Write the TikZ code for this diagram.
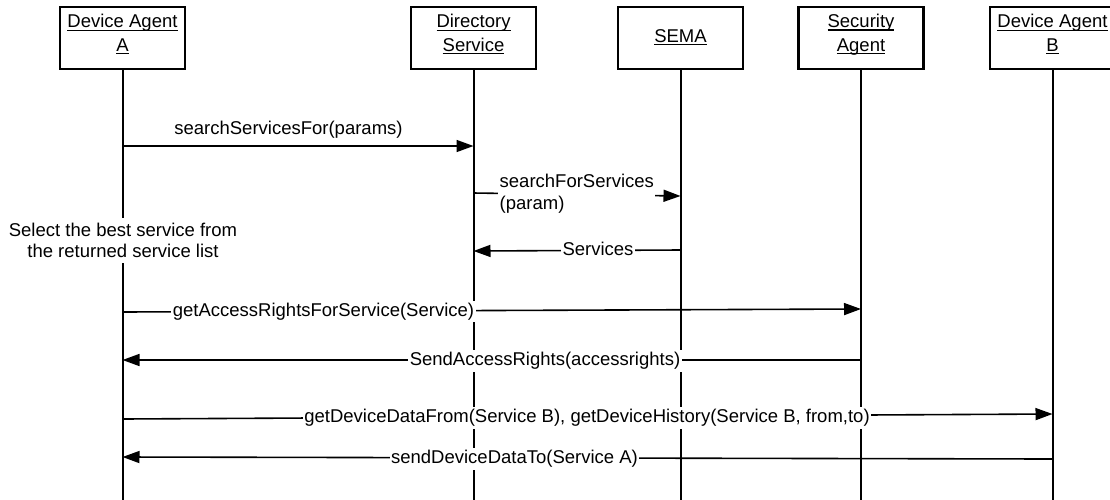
\documentclass[tikz,border=0pt]{standalone}
\usepackage{fontspec}
\setmainfont{Liberation Sans}
\usetikzlibrary{arrows.meta}

% underline at a fixed depth below the baseline
\newcommand{\ulabel}[1]{\setbox0\hbox{#1}\rlap{\rule[-3pt]{\wd0}{1.1pt}}\box0}

\tikzset{
  actor/.style={draw, line width=2.4pt, minimum width=125pt, minimum height=62pt,
    inner sep=0pt},
  actortext/.style={inner sep=0pt, align=center, font=\fontsize{18.5}{23.5}\selectfont},
  life/.style={line width=2pt},
  msg/.style={line width=1.6pt, -{Triangle[length=17pt,width=12pt]}},
  lbl/.style={fill=white, inner xsep=1.5pt, inner ysep=2pt,
    text height=13.5pt, text depth=3.9pt, font=\fontsize{18.5}{22}\selectfont},
  multi/.style={fill=white, inner xsep=1.5pt, inner ysep=3pt,
    font=\fontsize{18.5}{21.5}\selectfont},
}

\begin{document}
\begin{tikzpicture}[x=1pt,y=-1pt]
\useasboundingbox (0,0) rectangle (1110,499);

% participants
\node[actor] (A)    at (122.5,38) {};
\node[actor] (DS)   at (473.5,38) {};
\node[actor] (SEMA) at (680.5,38) {};
\node[actor] (SA)   at (861,38)   {};
\node[actor] (B)    at (1052.5,38) {};
\node[actortext] (At)    at ([yshift=3.5pt]A.center)    {\ulabel{Device Agent}\\\ulabel{A}};
\node[actortext] (DSt)   at ([yshift=3.5pt]DS.center)   {\ulabel{Directory}\\\ulabel{Service}};
\node[actortext] (SEMAt) at ([yshift=0.5pt]SEMA.center) {\ulabel{SEMA}};
\node[actortext] (SAt)   at ([yshift=3.5pt]SA.center)   {\ulabel{Security}\\\ulabel{Agent}};
\node[actortext] (Bt)    at ([yshift=3.5pt]B.center)    {\ulabel{Device Agent}\\\ulabel{B}};

% lifelines
\coordinate (bottom) at (0,502);
\foreach \p in {A,DS,SEMA,SA,B}
  \draw[life] (\p.south) -- (\p.south |- bottom);

% 1: search request
\draw[msg] (A.south |- 0,146) -- (DS.south |- 0,146);
\node[lbl, fill=none] (l1) at (288.5,130) {searchServicesFor(params)};

% 2: forwarded search
\draw[msg] (DS.south |- 0,193) -- (SEMA.south |- 0,196);
\node[multi, anchor=west, align=left] (l2) at (498,193.5) {searchForServices\\(param)};

% 3: services returned
\draw[msg] (SEMA.south |- 0,250) -- (DS.south |- 0,251);
\node[lbl] (l3) at (598,251) {Services};

% note on the lifeline of A
\node[multi, align=center, inner ysep=5pt] (note) at (123,240.5)
  {Select the best service from\\the returned service list};

% 5: access rights request
\draw[msg] (A.south |- 0,312) -- (SA.south |- 0,309);
\node[lbl] (l5) at (323.5,311.5) {getAccessRightsForService(Service)};

% 6: access rights reply
\draw[msg] (SA.south |- 0,360) -- (A.south |- 0,360);
\node[lbl] (l6) at (545,361) {SendAccessRights(accessrights)};

% 7: data request to B
\draw[msg] (A.south |- 0,419) -- (B.south |- 0,414);
\node[lbl] (l7) at (587,418) {getDeviceDataFrom(Service B), getDeviceHistory(Service B, from,to)};

% 8: data reply from B
\draw[msg] (B.south |- 0,459) -- (A.south |- 0,457);
\node[lbl] (l8) at (514.5,459) {sendDeviceDataTo(Service A)};
\end{tikzpicture}
\end{document}
